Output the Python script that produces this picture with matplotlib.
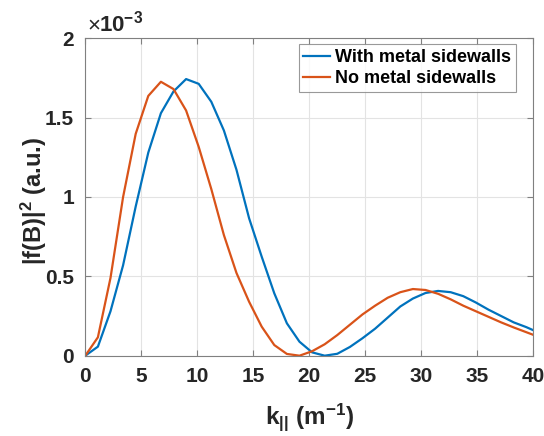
import numpy as np
import matplotlib
matplotlib.use("Agg")
import matplotlib.pyplot as plt
from matplotlib.ticker import FuncFormatter

# Sampled wavenumbers (m^-1) and spectral power |f(B)|^2 in units of 1e-3
k_step = 1.125
k_par = np.arange(37) * k_step

with_sidewalls = [
    0.000, 0.057, 0.280, 0.570, 0.940, 1.280, 1.528, 1.665, 1.743, 1.713,
    1.600, 1.419, 1.171, 0.866, 0.624, 0.393, 0.204, 0.088, 0.021, 0.000,
    0.012, 0.055, 0.110, 0.170, 0.240, 0.310, 0.360, 0.395, 0.408, 0.400,
    0.375, 0.335, 0.290, 0.250, 0.210, 0.180, 0.145,
]
no_sidewalls = [
    0.000, 0.116, 0.490, 1.000, 1.398, 1.637, 1.726, 1.680, 1.545, 1.316,
    1.050, 0.760, 0.521, 0.340, 0.183, 0.067, 0.011, 0.000, 0.028, 0.072,
    0.130, 0.195, 0.260, 0.315, 0.365, 0.400, 0.420, 0.414, 0.390, 0.355,
    0.315, 0.280, 0.245, 0.210, 0.178, 0.148, 0.118,
]
scale = 1e-3
series_names = ["With metal sidewalls", "No metal sidewalls"]
x_ticks = [0, 5, 10, 15, 20, 25, 30, 35, 40]
y_ticks = [0, 0.5, 1, 1.5, 2]

plt.rcParams["font.family"] = ["Liberation Sans", "DejaVu Sans"]
plt.rcParams["font.weight"] = "bold"
plt.rcParams["mathtext.fontset"] = "custom"
plt.rcParams["mathtext.rm"] = "Liberation Sans:bold"
plt.rcParams["mathtext.it"] = "Liberation Sans:bold"
plt.rcParams["mathtext.bf"] = "Liberation Sans:bold"
plt.rcParams["mathtext.default"] = "regular"

fig = plt.figure(figsize=(5.44, 4.36), dpi=100)
ax = fig.add_axes([0.1568, 0.1842, 0.8235, 0.7280])

blue = "#0072BD"
orange = "#D95319"
ax.plot(k_par, np.array(with_sidewalls) * scale, color=blue, lw=1.6,
        label=series_names[0])
ax.plot(k_par, np.array(no_sidewalls) * scale, color=orange, lw=1.6,
        label=series_names[1])

ax.set_xlim(0, 40)
ax.set_ylim(0, 2 * scale)
ax.set_xticks(x_ticks)
ax.set_yticks([t * scale for t in y_ticks])
ax.yaxis.set_major_formatter(FuncFormatter(lambda y, _: f"{y / scale:g}"))

ax.grid(True, color="#e3e3e3", lw=0.8)
ax.set_axisbelow(True)
for s in ax.spines.values():
    s.set_color("#808080")
    s.set_linewidth(0.8)
ax.tick_params(direction="in", length=4, width=0.8, color="#808080",
               top=True, right=True, labelsize=15, labelcolor="#262626",
               pad=8)
for lbl in ax.get_xticklabels() + ax.get_yticklabels():
    lbl.set_fontweight("bold")

ax.set_xlabel(r"k$_{||}$ (m$^{-1}$)", fontsize=17.5, fontweight="bold",
              color="#262626")
ax.xaxis.set_label_coords(0.5, -0.145)
ax.set_ylabel(r"|f(B)|$^{2}$ (a.u.)", fontsize=17, fontweight="bold",
              color="#262626")
ax.yaxis.set_label_coords(-0.082, 0.486)

# Exponent multiplier above the y axis, with a light "×" sign
ax.text(0.004, 1.02, "\u00d7", transform=ax.transAxes, fontsize=16,
        fontweight="normal", color="#262626", ha="left", va="baseline")
ax.text(0.030, 1.02, r"10$^{-3}$", transform=ax.transAxes,
        fontsize=16, color="#262626", ha="left", va="baseline")

leg = ax.legend(loc="upper right", fontsize=13, frameon=True, fancybox=False,
                handlelength=1.5, handletextpad=0.28, borderpad=0.25,
                labelspacing=0.25, borderaxespad=0.0,
                bbox_to_anchor=(0.9614, 0.981))
leg.get_frame().set_edgecolor("#808080")
leg.get_frame().set_linewidth(0.8)
for t in leg.get_texts():
    t.set_fontweight("bold")

fig.savefig("out.png", dpi=100)
